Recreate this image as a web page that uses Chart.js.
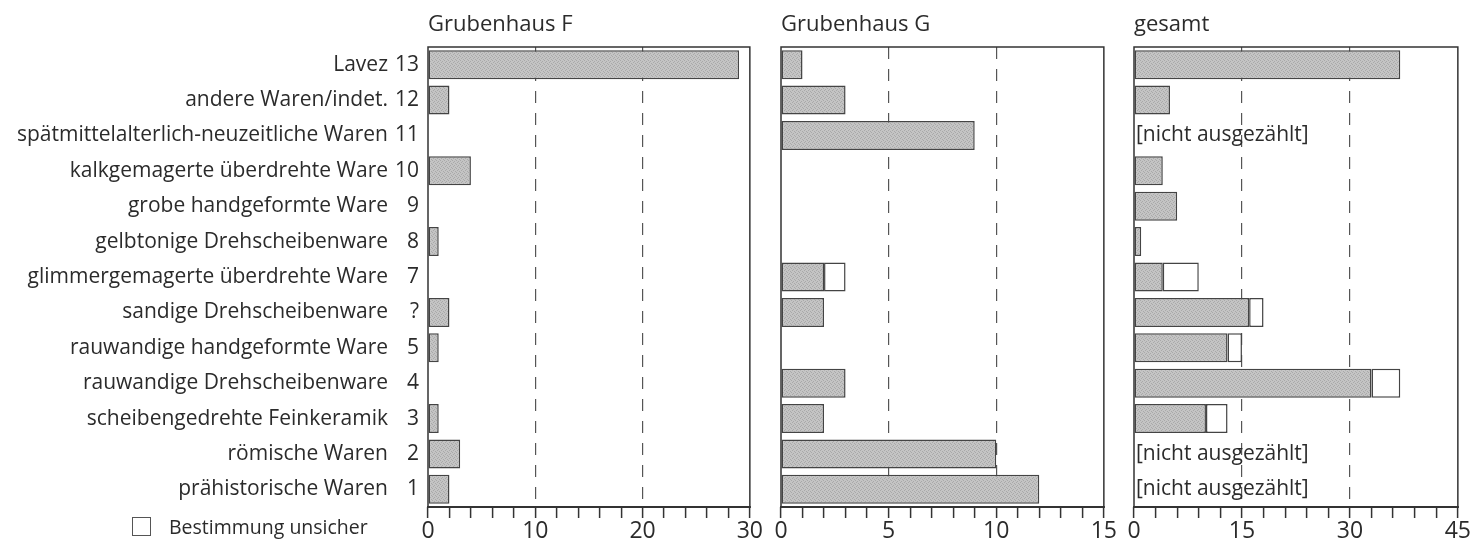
<!DOCTYPE html>
<html>
<head>
<meta charset="utf-8">
<script src="https://cdn.jsdelivr.net/npm/chart.js@4.4.1/dist/chart.umd.min.js"></script>
<style>
  body { margin: 0; background: #fff; width: 1483px; height: 544px; overflow: hidden; font-family: "Open Sans", sans-serif; color: #2b2b2b; }
  .panel { position: absolute; top: 0; height: 544px; }
  .title { position: absolute; top: 7px; font-size: 22px; line-height: 30px; }
  .legend { position: absolute; left: 132px; top: 514px; font-size: 19.5px; line-height: 26px; }
  .legend span.box { display: inline-block; width: 17px; height: 17px; border: 1.5px solid #555; vertical-align: -2px; margin-right: 18px; }
</style>
</head>
<body>
<div class="panel" style="left:0;width:765px"><canvas id="chartF"></canvas></div>
<div class="panel" style="left:767px;width:352px"><canvas id="chartG"></canvas></div>
<div class="panel" style="left:1120px;width:353px"><canvas id="chartAll"></canvas></div>
<div class="title" id="titleF" style="left:428px"></div>
<div class="title" id="titleG" style="left:781px"></div>
<div class="title" id="titleAll" style="left:1134px"></div>
<div class="legend"><span class="box"></span><span id="legendText"></span></div>

<script>
// Warenarten, von oben nach unten
const wareNames = [
  'Lavez',
  'andere Waren/indet.',
  'spätmittelalterlich-neuzeitliche Waren',
  'kalkgemagerte überdrehte Ware',
  'grobe handgeformte Ware',
  'gelbtonige Drehscheibenware',
  'glimmergemagerte überdrehte Ware',
  'sandige Drehscheibenware',
  'rauwandige handgeformte Ware',
  'rauwandige Drehscheibenware',
  'scheibengedrehte Feinkeramik',
  'römische Waren',
  'prähistorische Waren'
];
const wareNumbers = ['13', '12', '11', '10', '9', '8', '7', '?', '5', '4', '3', '2', '1'];

// Anzahlen (sicher / unsicher)
const hausF = [29, 2, 0, 4, 0, 1, 0, 2, 1, 0, 1, 3, 2];
const hausFUnsicher = [0, 0, 0, 0, 0, 0, 0, 0, 0, 0, 0, 0, 0];
const hausG = [1, 3, 9, 0, 0, 0, 2, 2, 0, 3, 2, 10, 12];
const hausGUnsicher = [0, 0, 0, 0, 0, 0, 1, 0, 0, 0, 0, 0, 0];
const gesamt = [37, 5, null, 4, 6, 1, 4, 16, 13, 33, 10, null, null];
const gesamtUnsicher = [0, 0, null, 0, 0, 0, 5, 2, 2, 4, 3, null, null];

const panelTitles = ['Grubenhaus F', 'Grubenhaus G', 'gesamt'];
const axisMax = [30, 15, 45];
const majorStep = [10, 5, 15];
const minorStep = [2, 1, 3];
const notCountedText = '[nicht ausgezählt]';
const legendText = 'Bestimmung unsicher';

document.getElementById('titleF').textContent = panelTitles[0];
document.getElementById('titleG').textContent = panelTitles[1];
document.getElementById('titleAll').textContent = panelTitles[2];
document.getElementById('legendText').textContent = legendText;

// gepunktetes Grau wie im Druck
function stipple() {
  const c = document.createElement('canvas');
  c.width = 4; c.height = 4;
  const g = c.getContext('2d');
  g.fillStyle = '#c4c4c4';
  g.fillRect(0, 0, 4, 4);
  g.fillStyle = '#a9a9a9';
  g.fillRect(0, 0, 1, 1);
  g.fillRect(2, 1, 1, 1);
  g.fillRect(1, 2, 1, 1);
  g.fillRect(3, 3, 1, 1);
  return g.createPattern(c, 'repeat');
}

const framePlugin = {
  id: 'frame',
  afterDraw(chart) {
    const { ctx, chartArea: a } = chart;
    ctx.save();
    ctx.setLineDash([]);
    ctx.strokeStyle = '#333';
    ctx.lineWidth = 1.5;
    ctx.strokeRect(a.left, a.top, a.right - a.left, a.bottom - a.top);
    ctx.lineWidth = 2;
    ctx.beginPath();
    ctx.moveTo(a.left - 1, a.bottom);
    ctx.lineTo(a.right + 1, a.bottom);
    ctx.stroke();
    ctx.restore();
  }
};

const notCountedPlugin = {
  id: 'notCounted',
  afterDatasetsDraw(chart, args, opts) {
    if (!opts.values) return;
    const { ctx, chartArea: a } = chart;
    const y = chart.scales.y;
    ctx.save();
    ctx.font = '21px "Open Sans"';
    ctx.fillStyle = '#2b2b2b';
    ctx.textBaseline = 'middle';
    opts.values.forEach((v, i) => {
      if (v === null) ctx.fillText(notCountedText, a.left + 2, y.getPixelForValue(i));
    });
    ctx.restore();
  }
};

// kein Rahmen für leere Balken
const edge = c => (c.raw ? 1.5 : 0);

function makePanel(id, sure, unsure, max, major, minor, withLabels, padLeft) {
  const ctx = document.getElementById(id).getContext('2d');
  const scales = {
    x: {
      type: 'linear',
      min: 0,
      max: max,
      stacked: true,
      border: { display: false, dash: [12, 10] },
      grid: {
        color: c => (c.tick && c.tick.value > 0 && c.tick.value < max && c.tick.value % major === 0) ? '#555' : 'rgba(0,0,0,0)',
        lineWidth: 1.2,
        tickColor: '#333',
        tickWidth: 1.5,
        tickLength: 11
      },
      ticks: {
        stepSize: minor,
        autoSkip: false,
        maxRotation: 0,
        padding: 2,
        color: '#2b2b2b',
        font: { family: 'Open Sans', size: 23, lineHeight: 1 },
        callback: v => (v % major === 0 ? v : '')
      },
      afterFit: s => { s.height = 37; }
    },
    y: {
      type: 'category',
      stacked: true,
      offset: true,
      display: withLabels,
      weight: 0,
      border: { display: false },
      grid: { display: false, drawTicks: false },
      ticks: { padding: 9, color: '#2b2b2b', font: { family: 'Open Sans', size: 21 } }
    }
  };
  if (withLabels) {
    scales.y.afterFit = s => { s.width = 40; };
    scales.names = {
      type: 'category',
      position: 'left',
      labels: wareNames,
      offset: true,
      weight: 1,
      border: { display: false },
      grid: { display: false, drawTicks: false },
      ticks: { padding: 0, color: '#2b2b2b', font: { family: 'Open Sans', size: 21 } },
      afterFit: s => { s.width = 388; }
    };
  }
  const pattern = stipple();
  return new Chart(ctx, {
    type: 'bar',
    data: {
      labels: wareNumbers,
      datasets: [
        {
          label: 'sicher',
          data: sure,
          backgroundColor: pattern,
          borderColor: '#444',
          borderWidth: edge,
          borderSkipped: false,
          barPercentage: 0.82,
          categoryPercentage: 1
        },
        {
          label: legendText,
          data: unsure,
          backgroundColor: '#fff',
          borderColor: '#444',
          borderWidth: edge,
          borderSkipped: false,
          barPercentage: 0.82,
          categoryPercentage: 1
        }
      ]
    },
    options: {
      indexAxis: 'y',
      responsive: false,
      animation: false,
      maintainAspectRatio: false,
      layout: { padding: { top: 47, right: 14, left: padLeft, bottom: 0 } },
      scales: scales,
      plugins: {
        legend: { display: false },
        tooltip: { enabled: false },
        notCounted: { values: id === 'chartAll' ? gesamt : null }
      }
    },
    plugins: [framePlugin, notCountedPlugin]
  });
}

['chartF', 'chartG', 'chartAll'].forEach(id => {
  const c = document.getElementById(id);
  c.width = c.parentElement.clientWidth;
  c.height = 544;
  c.style.width = c.width + 'px';
  c.style.height = '544px';
});

makePanel('chartF', hausF, hausFUnsicher, axisMax[0], majorStep[0], minorStep[0], true, 0);
makePanel('chartG', hausG, hausGUnsicher, axisMax[1], majorStep[1], minorStep[1], false, 14);
makePanel('chartAll', gesamt, gesamtUnsicher, axisMax[2], majorStep[2], minorStep[2], false, 14);
</script>
</body>
</html>
